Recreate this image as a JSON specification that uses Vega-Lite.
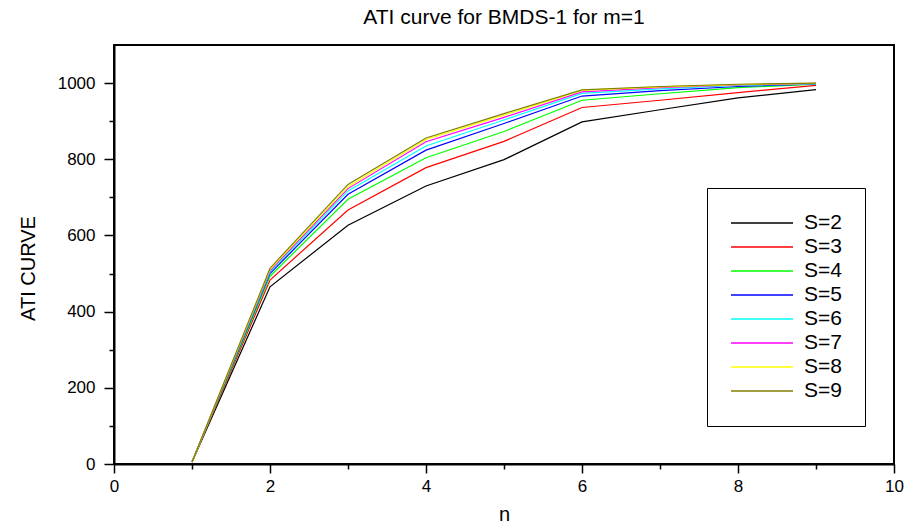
{
  "$schema": "https://vega.github.io/schema/vega-lite/v6.json",
  "width": 780,
  "height": 419,
  "autosize": "none",
  "padding": {"left": 114, "top": 45, "right": 15, "bottom": 65},
  "background": "white",
  "title": {"text": "ATI curve for BMDS-1 for m=1", "font": "Liberation Sans", "fontSize": 21, "fontWeight": "normal", "color": "black", "offset": 17},
  "config": {
    "view": {"stroke": "black", "strokeWidth": 2},
    "axis": {"labelFont": "Liberation Sans", "titleFont": "Liberation Sans", "labelColor": "black", "titleColor": "black", "domainColor": "black", "tickColor": "black", "domainWidth": 2, "tickWidth": 1.5, "grid": false, "labelFontSize": 17, "titleFontWeight": "normal"}
  },
  "data": {"values": [
    {"n":1,"S":"S=2","v":5},{"n":2,"S":"S=2","v":465},{"n":3,"S":"S=2","v":627},{"n":4,"S":"S=2","v":730},{"n":5,"S":"S=2","v":799},{"n":6,"S":"S=2","v":898},{"n":7,"S":"S=2","v":930},{"n":8,"S":"S=2","v":961},{"n":9,"S":"S=2","v":983},
    {"n":1,"S":"S=3","v":5},{"n":2,"S":"S=3","v":483},{"n":3,"S":"S=3","v":667},{"n":4,"S":"S=3","v":778},{"n":5,"S":"S=3","v":847},{"n":6,"S":"S=3","v":936},{"n":7,"S":"S=3","v":955},{"n":8,"S":"S=3","v":975},{"n":9,"S":"S=3","v":994},
    {"n":1,"S":"S=4","v":5},{"n":2,"S":"S=4","v":493},{"n":3,"S":"S=4","v":695},{"n":4,"S":"S=4","v":804},{"n":5,"S":"S=4","v":873},{"n":6,"S":"S=4","v":955},{"n":7,"S":"S=4","v":972},{"n":8,"S":"S=4","v":988},{"n":9,"S":"S=4","v":997},
    {"n":1,"S":"S=5","v":5},{"n":2,"S":"S=5","v":500},{"n":3,"S":"S=5","v":708},{"n":4,"S":"S=5","v":824},{"n":5,"S":"S=5","v":894},{"n":6,"S":"S=5","v":966},{"n":7,"S":"S=5","v":980},{"n":8,"S":"S=5","v":991},{"n":9,"S":"S=5","v":998},
    {"n":1,"S":"S=6","v":5},{"n":2,"S":"S=6","v":504},{"n":3,"S":"S=6","v":717},{"n":4,"S":"S=6","v":835},{"n":5,"S":"S=6","v":903},{"n":6,"S":"S=6","v":973},{"n":7,"S":"S=6","v":985},{"n":8,"S":"S=6","v":994},{"n":9,"S":"S=6","v":998},
    {"n":1,"S":"S=7","v":5},{"n":2,"S":"S=7","v":508},{"n":3,"S":"S=7","v":723},{"n":4,"S":"S=7","v":846},{"n":5,"S":"S=7","v":910},{"n":6,"S":"S=7","v":977},{"n":7,"S":"S=7","v":988},{"n":8,"S":"S=7","v":995},{"n":9,"S":"S=7","v":999},
    {"n":1,"S":"S=8","v":5},{"n":2,"S":"S=8","v":511},{"n":3,"S":"S=8","v":728},{"n":4,"S":"S=8","v":852},{"n":5,"S":"S=8","v":916},{"n":6,"S":"S=8","v":981},{"n":7,"S":"S=8","v":990},{"n":8,"S":"S=8","v":996},{"n":9,"S":"S=8","v":999},
    {"n":1,"S":"S=9","v":5},{"n":2,"S":"S=9","v":514},{"n":3,"S":"S=9","v":734},{"n":4,"S":"S=9","v":856},{"n":5,"S":"S=9","v":920},{"n":6,"S":"S=9","v":982},{"n":7,"S":"S=9","v":991},{"n":8,"S":"S=9","v":997},{"n":9,"S":"S=9","v":1000}
  ]},
  "mark": {"type": "line", "strokeWidth": 1.2},
  "encoding": {
    "x": {"field": "n", "type": "quantitative", "scale": {"domain": [0, 10], "nice": false, "zero": false},
      "axis": {"title": "n", "titleFontSize": 20, "titlePadding": 10, "values": [0,1,2,3,4,5,6,7,8,9,10], "labelExpr": "datum.value % 2 == 0 ? datum.label : ''", "tickSize": {"condition": {"test": "datum.value % 2 == 0", "value": 9}, "value": 5}, "labelPadding": 5, "labelFlush": false}},
    "y": {"field": "v", "type": "quantitative", "scale": {"domain": [0, 1100], "nice": false},
      "axis": {"title": "ATI CURVE", "titleFontSize": 20, "titleX": -86, "titleY": 223, "titleAlign": "center", "titleBaseline": "middle", "values": [0,100,200,300,400,500,600,700,800,900,1000], "labelExpr": "datum.value % 200 == 0 ? datum.label : ''", "tickSize": {"condition": {"test": "datum.value % 200 == 0", "value": 10}, "value": 5}, "labelPadding": 9, "format": "d"}},
    "color": {"field": "S", "type": "nominal",
      "scale": {"domain": ["S=2","S=3","S=4","S=5","S=6","S=7","S=8","S=9"], "range": ["#000000","#ff0000","#00ff00","#0000ff","#00ffff","#ff00ff","#ffff00","#808000"]},
      "legend": {"title": null, "orient": "none", "legendX": 593, "legendY": 143, "strokeColor": "black", "padding": 23, "symbolType": "stroke", "symbolSize": 3844, "symbolStrokeWidth": 1.5, "labelFont": "Liberation Sans", "labelFontSize": 21, "labelColor": "black", "labelOffset": 10, "rowPadding": 0, "clipHeight": 24}}
  }
}
